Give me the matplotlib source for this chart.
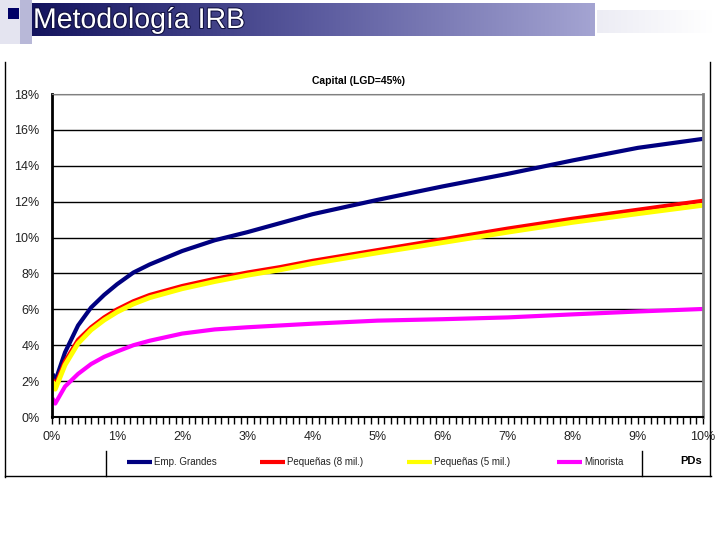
import numpy as np
import matplotlib
matplotlib.use("Agg")
import matplotlib.pyplot as plt
from matplotlib.patches import Rectangle
from matplotlib.lines import Line2D
import matplotlib.patheffects as pe

plt.rcParams['font.family'] = ['Liberation Sans', 'DejaVu Sans']

# PD (%) and capital (%)
pd_pct = [0.02, 0.05, 0.2, 0.4, 0.6, 0.8, 1.0, 1.25, 1.5, 2.0, 2.5, 3.0,
          3.5, 4.0, 5.0, 6.0, 7.0, 8.0, 9.0, 10.0]
emp_grandes = [2.3, 2.0, 3.6, 5.1, 6.1, 6.8, 7.4, 8.05, 8.5, 9.25, 9.85, 10.3,
               10.8, 11.3, 12.1, 12.85, 13.55, 14.3, 15.0, 15.5]
peq_8 = [2.0, 1.75, 3.1, 4.3, 5.0, 5.55, 6.0, 6.45, 6.8, 7.3, 7.7, 8.05,
         8.35, 8.7, 9.3, 9.9, 10.5, 11.05, 11.55, 12.05]
peq_5 = [1.85, 1.55, 2.9, 4.1, 4.85, 5.4, 5.85, 6.3, 6.65, 7.15, 7.55, 7.9,
         8.2, 8.55, 9.15, 9.72, 10.3, 10.85, 11.33, 11.8]
minorista = [0.95, 0.75, 1.7, 2.4, 2.95, 3.35, 3.65, 4.0, 4.25, 4.65, 4.88, 5.0,
             5.1, 5.2, 5.37, 5.45, 5.55, 5.72, 5.88, 6.02]

series_names = ['Emp. Grandes', 'Pequeñas (8 mil.)', 'Pequeñas (5 mil.)', 'Minorista']
series_values = [emp_grandes, peq_8, peq_5, minorista]
colors = ['#000080', '#ff0000', '#ffff00', '#ff00ff']
widths = [3, 3, 3.5, 3]

y_ticks = [0, 2, 4, 6, 8, 10, 12, 14, 16, 18]
x_ticks = [0, 1, 2, 3, 4, 5, 6, 7, 8, 9, 10]

W, H = 720, 540
fig = plt.figure(figsize=(7.2, 5.4), dpi=100)

# background / decorations in pixel coordinates
bg = fig.add_axes([0, 0, 1, 1], zorder=0)
bg.set_xlim(0, W)
bg.set_ylim(H, 0)
bg.axis('off')

# slide title decorations
bg.add_patch(Rectangle((0, 0), 20, 44, color='#e4e4f0', lw=0))
bg.add_patch(Rectangle((20, 0), 12, 44, color='#b8b8d8', lw=0))
bg.add_patch(Rectangle((8, 8), 11, 11, color='#000066', lw=0))
grad = np.linspace(0, 1, 256).reshape(1, -1)
cmap_bar = matplotlib.colors.LinearSegmentedColormap.from_list(
    'bar', ['#14145e', '#5a5a9e', '#a4a4d2'])
bg.imshow(grad, cmap=cmap_bar, extent=(32, 595, 36, 3), aspect='auto', zorder=1)
cmap_fade = matplotlib.colors.LinearSegmentedColormap.from_list(
    'fade', ['#ececf4', '#ffffff'])
bg.imshow(grad, cmap=cmap_fade, extent=(597, 712, 33, 10), aspect='auto', zorder=1)
bg.text(33, 21, 'Metodología IRB', color='white', fontsize=20.5, va='center', ha='left',
        zorder=3, path_effects=[pe.withStroke(linewidth=1.5, foreground='#101040')])

# chart frame
bg.plot([5, 5], [62, 477], color='black', lw=1)
bg.plot([5, 711], [476, 476], color='black', lw=1)
bg.plot([710, 710], [62, 476], color='black', lw=1)
bg.plot([106, 106], [451, 476], color='black', lw=1)
bg.plot([642, 642], [451, 476], color='black', lw=1)

# legend row
legend_x = [127, 260, 407, 557]
for lx, name, c in zip(legend_x, series_names, colors):
    bg.add_line(Line2D([lx, lx + 25], [462, 462], color=c, lw=3,
                       solid_capstyle='butt'))
    bg.text(lx + 27, 462, name, fontsize=7, va='center', ha='left', color='#222222')
bg.text(691, 461, 'PDs', fontsize=8, fontweight='bold', va='center', ha='center')

bg.text(359, 81, 'Capital (LGD=45%)', fontsize=7.5, fontweight='bold',
        va='center', ha='center')

# main plot
ax = fig.add_axes([52 / W, 1 - 417 / H, (703 - 52) / W, (417 - 94) / H], zorder=2)
ax.patch.set_alpha(0)
for vals, c, w in zip(series_values, colors, widths):
    ax.plot(pd_pct, vals, color=c, lw=w, solid_joinstyle='round')

ax.set_xlim(0, 10)
ax.set_ylim(0, 18)
ax.set_yticks(y_ticks)
ax.set_yticklabels([f'{t}%' for t in y_ticks], fontsize=9, color='#222222')
ax.set_xticks(x_ticks)
ax.set_xticklabels([f'{t}%' for t in x_ticks], fontsize=9, color='#222222')
ax.set_xticks(np.arange(0, 10.01, 0.1), minor=True)
ax.tick_params(axis='y', length=0, pad=9)
ax.tick_params(axis='x', which='major', length=5, width=1, pad=5, direction='out')
ax.tick_params(axis='x', which='minor', length=5, width=1, direction='out')
ax.grid(axis='y', color='black', lw=1)
ax.set_axisbelow(True)

ax.spines['left'].set_linewidth(2)
ax.spines['bottom'].set_linewidth(1.5)
ax.spines['top'].set_color('#808080')
ax.spines['right'].set_color('#808080')
ax.spines['right'].set_linewidth(2)

fig.savefig('out.png', dpi=100)
